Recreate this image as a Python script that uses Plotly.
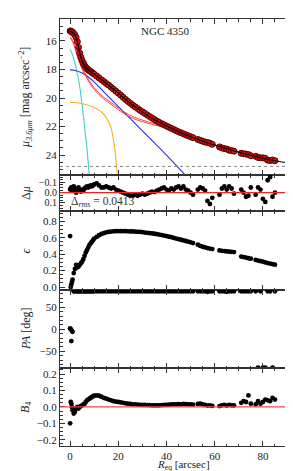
import plotly.graph_objects as go
from plotly.subplots import make_subplots

# ---------------- data ----------------
R = [0, 0.25, 0.5, 0.75, 1, 1.5, 2, 2.5, 3, 3.5, 4, 4.5, 5, 5.5, 6, 6.5, 7, 7.5, 8, 8.5, 9, 9.5, 10,
     11, 12, 13, 14, 15, 16, 17, 18, 19, 20, 21, 22, 23, 24, 25, 26, 27, 28, 29, 30,
     31, 32, 33, 34, 35, 36, 37, 38, 39, 40, 41, 42, 43, 44, 45, 46, 47, 48, 49, 50, 51,
     53, 54, 55, 56, 57, 58, 59,
     62, 63, 64, 65, 66, 67, 68,
     71, 72, 73, 74, 75,
     77, 78, 79, 80, 81, 82, 83, 84, 85]

MU = [15.30, 15.31, 15.33, 15.36, 15.40, 15.48, 15.58, 15.75, 16.05, 16.45, 16.85, 17.15, 17.38, 17.56,
      17.72, 17.84, 17.94, 18.02, 18.09, 18.15, 18.21, 18.27, 18.33,
      18.46, 18.59, 18.72, 18.85, 18.98, 19.10, 19.24, 19.38, 19.52, 19.66, 19.80, 19.95, 20.10, 20.24,
      20.37, 20.50, 20.62, 20.74, 20.86, 20.97,
      21.08, 21.19, 21.30, 21.41, 21.51, 21.62, 21.71, 21.80, 21.88, 21.97, 22.05, 22.13, 22.21, 22.29,
      22.37, 22.44, 22.51, 22.58, 22.65, 22.72, 22.78,
      22.91, 22.97, 23.03, 23.09, 23.12, 23.17, 23.25,
      23.43, 23.50, 23.55, 23.58, 23.66, 23.69, 23.73,
      23.88, 23.91, 23.93, 23.97, 24.05,
      24.09, 24.17, 24.19, 24.20, 24.23, 24.36, 24.38, 24.35, 24.40]

DMU = [-0.03, -0.04, -0.05, -0.03, -0.02, -0.06, -0.04, 0.00, -0.03, -0.05, -0.02, -0.01, -0.03, -0.02,
       -0.04, -0.05, -0.06, -0.05, -0.06, -0.07, -0.06, -0.07, -0.08,
       -0.09, -0.07, -0.05, -0.05, -0.06, -0.05, -0.04, -0.05, -0.03, -0.02, -0.01, 0.00, 0.01, 0.02,
       0.03, 0.03, 0.02, 0.03, 0.02, 0.01,
       0.02, 0.01, 0.00, -0.01, -0.005, -0.02, -0.03, -0.04, -0.05, -0.03, -0.02, -0.04, -0.03, -0.05,
       -0.06, -0.04, -0.06, -0.03, -0.02, 0.00, 0.02,
       -0.03, -0.05, -0.04, -0.02, 0.08, 0.11, 0.05,
       0.02, -0.04, -0.06, -0.03, -0.06, -0.04, 0.01,
       -0.03, 0.00, 0.04, 0.03, -0.05,
       0.02, -0.05, -0.03, 0.06, 0.09, -0.12, -0.15, 0.04, 0.00]

EPS = [0.62, 0.00, 0.03, 0.06, 0.09, 0.17, 0.22, 0.27, 0.24, 0.25, 0.27, 0.29, 0.31, 0.34,
       0.38, 0.42, 0.45, 0.48, 0.51, 0.53, 0.55, 0.57, 0.59,
       0.61, 0.63, 0.645, 0.655, 0.665, 0.67, 0.675, 0.678, 0.68, 0.68, 0.68, 0.68, 0.679, 0.678,
       0.677, 0.676, 0.674, 0.672, 0.67, 0.667,
       0.663, 0.66, 0.656, 0.652, 0.648, 0.643, 0.638, 0.632, 0.626, 0.62, 0.613, 0.606, 0.598, 0.59,
       0.582, 0.575, 0.567, 0.56, 0.552, 0.544, 0.535,
       0.515, 0.50, 0.49, 0.482, 0.474, 0.468, 0.462,
       0.445, 0.44, 0.437, 0.433, 0.43, 0.428, 0.425,
       0.37, 0.365, 0.358, 0.35, 0.345,
       0.33, 0.322, 0.315, 0.31, 0.30, 0.292, 0.285, 0.278, 0.272]

PA = [2, 0, -27, -4, -6, 86, 86, 86, 86, 86, 86, 86, 86, 86,
      86, 86, 86, 86, 86, 86, 86, 86, 86,
      86, 86, 86, 86, 86, 86, 86, 86, 86, 86, 86, 86, 86, 86,
      86, 86, 86, 86, 86, 86,
      86, 86, 86, 86, 86, 86, 86, 86, 86, 86, 86, 86, 86, 86,
      86, 86, 86, 86, 86, 86, 86,
      86, 86, 86, 86, 85, 86, 86,
      86, 86, 86, 85, 86, 86, 86,
      86, 86, 86, 86, 86,
      86, -87, 86, -87, -87, 86, 86, -87, 86]

B4 = [-0.10, 0.03, 0.02, 0.00, -0.02, -0.04, -0.03, -0.01, 0.00, -0.01, 0.00, 0.005, 0.01, 0.015,
      0.02, 0.03, 0.04, 0.045, 0.05, 0.055, 0.06, 0.065, 0.068,
      0.07, 0.068, 0.062, 0.055, 0.05, 0.045, 0.04, 0.035, 0.032, 0.03, 0.028, 0.025, 0.022, 0.02,
      0.018, 0.016, 0.015, 0.014, 0.013, 0.012,
      0.012, 0.011, 0.011, 0.01, 0.01, 0.01, 0.01, 0.011, 0.012, 0.013, 0.014, 0.015, 0.016, 0.015,
      0.017, 0.016, 0.018, 0.017, 0.015, 0.016, 0.014,
      0.018, 0.02, 0.015, 0.012, 0.008, 0.01, 0.006,
      0.005, 0.01, 0.012, 0.008, 0.012, 0.01, 0.009,
      0.025, 0.035, 0.03, 0.07, 0.02,
      0.015, 0.035, 0.02, 0.03, 0.045, 0.04, 0.035, 0.055, 0.045]

# model curves
MODEL_R = [0, 1, 2, 3, 4, 5, 6, 7, 8, 10, 12, 15, 20, 25, 30, 35, 40, 45, 50, 55, 60, 65, 70, 75, 80, 85, 92.5]
MODEL_MU = [15.30, 15.40, 15.58, 16.05, 16.85, 17.38, 17.72, 17.94, 18.09, 18.33, 18.59, 18.98, 19.66,
            20.37, 20.97, 21.52, 21.97, 22.37, 22.72, 23.03, 23.30, 23.56, 23.80, 24.02, 24.22, 24.40, 24.62]

RED_R = [0, 1, 2, 3, 4, 5, 6, 7, 8, 9, 10, 12, 14, 16, 18, 20, 22.7, 26, 30, 35, 40, 45, 50, 60, 70, 80, 85]
RED1_MU = [15.70, 15.95, 16.40, 16.95, 17.45, 17.85, 18.20, 18.50, 18.80, 19.05, 19.28, 19.65, 19.95,
           20.20, 20.45, 20.70, 21.00, 21.30, 21.55, 21.80, 22.05, 22.40, 22.73, 23.30, 23.80, 24.22, 24.40]
RED2_MU = [15.80, 16.05, 16.52, 17.08, 17.58, 17.98, 18.33, 18.63, 18.93, 19.18, 19.40, 19.77, 20.07,
           20.32, 20.57, 20.82, 21.12, 21.42, 21.66, 21.90, 22.10, 22.42, 22.74, 23.30, 23.80, 24.22, 24.40]

BLUE_R = [0, 2, 4, 6, 8, 10, 12, 15, 20, 25, 30, 35, 40, 45, 48]
BLUE_MU = [18.03, 18.07, 18.18, 18.35, 18.58, 18.88, 19.22, 19.75, 20.60, 21.45, 22.30, 23.15, 24.00, 24.90, 25.45]

CYAN_R = [0, 1, 2, 3, 4, 5, 6, 7, 8]
CYAN_MU = [16.60, 16.95, 17.55, 18.30, 19.20, 20.50, 22.00, 23.60, 25.50]

ORANGE_R = [0, 2, 4, 6, 8, 10, 12, 13, 14, 15, 16, 17, 18, 18.5, 19, 19.6]
ORANGE_MU = [20.30, 20.32, 20.37, 20.44, 20.53, 20.66, 20.85, 20.98, 21.15, 21.38, 21.68, 22.10, 22.95,
             23.50, 24.30, 25.50]

SKY_MU = 24.8
RMS_TEXT = "Δ<sub><i>rms</i></sub> = 0.0413"
GALAXY = "NGC 4350"

# ---------------- figure ----------------
FONT = "Liberation Serif"
AX = "#333333"
XRANGE = [-4.2, 92.5]

fig = make_subplots(rows=5, cols=1, shared_xaxes=True, vertical_spacing=0,
                    row_heights=[156, 36, 79, 78, 78])

line = lambda c, w=1.1: dict(color=c, width=w, shape="spline")
fig.add_trace(go.Scatter(x=CYAN_R, y=CYAN_MU, mode="lines", line=line("#3fd0c8")), 1, 1)
fig.add_trace(go.Scatter(x=ORANGE_R, y=ORANGE_MU, mode="lines", line=line("#ffb020")), 1, 1)
fig.add_trace(go.Scatter(x=BLUE_R, y=BLUE_MU, mode="lines", line=line("#2030ff")), 1, 1)
fig.add_trace(go.Scatter(x=RED_R, y=RED1_MU, mode="lines", line=line("#ff2a2a", 0.9)), 1, 1)
fig.add_trace(go.Scatter(x=RED_R, y=RED2_MU, mode="lines", line=line("#ff2a2a", 0.9)), 1, 1)
fig.add_trace(go.Scatter(x=R, y=MU, mode="markers",
                         marker=dict(size=6, color="#e01010", line=dict(color="#5a0000", width=1))), 1, 1)
fig.add_trace(go.Scatter(x=MODEL_R, y=MODEL_MU, mode="lines", line=line("black", 1.1)), 1, 1)

dots = dict(size=4.8, color="black")
fig.add_trace(go.Scatter(x=R, y=DMU, mode="markers", marker=dots), 2, 1)
fig.add_trace(go.Scatter(x=R, y=EPS, mode="markers", marker=dots), 3, 1)
fig.add_trace(go.Scatter(x=R, y=PA, mode="markers", marker=dots), 4, 1)
fig.add_trace(go.Scatter(x=R, y=B4, mode="markers", marker=dots), 5, 1)

fig.add_hline(y=SKY_MU, row=1, col=1, line=dict(color="#888888", width=1, dash="dot"))
fig.add_hline(y=0, row=2, col=1, line=dict(color="#ff2020", width=1.2))
fig.add_hline(y=0, row=5, col=1, line=dict(color="#ff4040", width=1.2))

common = dict(showline=True, linecolor=AX, linewidth=1, mirror="ticks", ticks="inside",
              ticklen=5, tickcolor=AX, showgrid=False, zeroline=False)
tfont = dict(size=11, family=FONT, color="#222")

for i in range(1, 6):
    fig.update_xaxes(row=i, col=1, range=XRANGE, dtick=20, tick0=0,
                     showticklabels=(i == 5), tickfont=tfont,
                     minor=dict(ticks="inside", ticklen=2.5, tickcolor=AX, dtick=5), **common)

fig.update_yaxes(row=1, col=1, range=[25.4, 14.46], tickvals=[16, 18, 20, 22, 24], tickfont=tfont,
                 minor=dict(ticks="inside", ticklen=2.5, tickcolor=AX, dtick=0.5), **common)
fig.update_yaxes(row=2, col=1, range=[0.178, -0.171], tickvals=[-0.1, 0.0, 0.1], tickformat=".1f",
                 tickfont=dict(size=10, family=FONT, color="#222"),
                 minor=dict(ticks="inside", ticklen=2.5, tickcolor=AX, dtick=0.025), **common)
fig.update_yaxes(row=3, col=1, range=[-0.036, 0.925], tickvals=[0, 0.2, 0.4, 0.6, 0.8], tickformat=".1f",
                 tickfont=tfont,
                 minor=dict(ticks="inside", ticklen=2.5, tickcolor=AX, dtick=0.05), **common)
fig.update_yaxes(row=4, col=1, range=[-88, 89], tickvals=[-50, 0, 50], tickfont=tfont,
                 minor=dict(ticks="inside", ticklen=2.5, tickcolor=AX, dtick=10), **common)
fig.update_yaxes(row=5, col=1, range=[-0.238, 0.237], tickvals=[-0.2, -0.1, 0, 0.1, 0.2], tickformat=".1f",
                 tickfont=tfont,
                 minor=dict(ticks="inside", ticklen=2.5, tickcolor=AX, dtick=0.025), **common)

# exact domains (pixel layout of reference)
top, bot = 11, 438
H = bot - top
edges = [11, 167, 203, 282, 360, 438]
for i in range(5):
    d0 = (bot - edges[i + 1]) / H
    d1 = (bot - edges[i]) / H
    fig.layout[f"yaxis{'' if i == 0 else i + 1}"].domain = [d0, d1]

tf = dict(family=FONT, size=12, color="#222")
ytitles = ["<i>μ</i><sub><i>3.6μm</i></sub> [mag arcsec<sup>−2</sup>]", "Δ<i>μ</i>", "<i>ϵ</i>",
           "<i>PA</i> [deg]", "<i>B</i><sub>4</sub>"]
for i, t in enumerate(ytitles):
    yc = (bot - (edges[i] + edges[i + 1]) / 2) / H
    fig.add_annotation(text=t, xref="paper", yref="paper", x=-0.146, y=yc, textangle=-90,
                       showarrow=False, font=tf, xanchor="center", yanchor="middle")

fig.add_annotation(text="<i>R</i><sub>eq</sub> [arcsec]", xref="paper", yref="paper",
                   x=0.528, y=-0.0455, showarrow=False, font=dict(family=FONT, size=11, color="#222"),
                   xanchor="center", yanchor="middle", borderpad=0)
fig.add_annotation(text=GALAXY, xref="x domain", yref="y domain", x=0.45, y=0.923,
                   showarrow=False, font=dict(family=FONT, size=11, color="#222"),
                   xanchor="center", yanchor="middle")
fig.add_annotation(text=RMS_TEXT, xref="x2 domain", yref="y2 domain", x=0.04, y=0.0,
                   showarrow=False, font=dict(family=FONT, size=11.5, color="#333"),
                   xanchor="left", yanchor="bottom")

fig.update_layout(width=293, height=471, showlegend=False,
                  margin=dict(l=52, r=8, t=11, b=33),
                  paper_bgcolor="white", plot_bgcolor="white",
                  font=dict(family=FONT, size=11, color="#222"))

fig.write_html("out.html")
